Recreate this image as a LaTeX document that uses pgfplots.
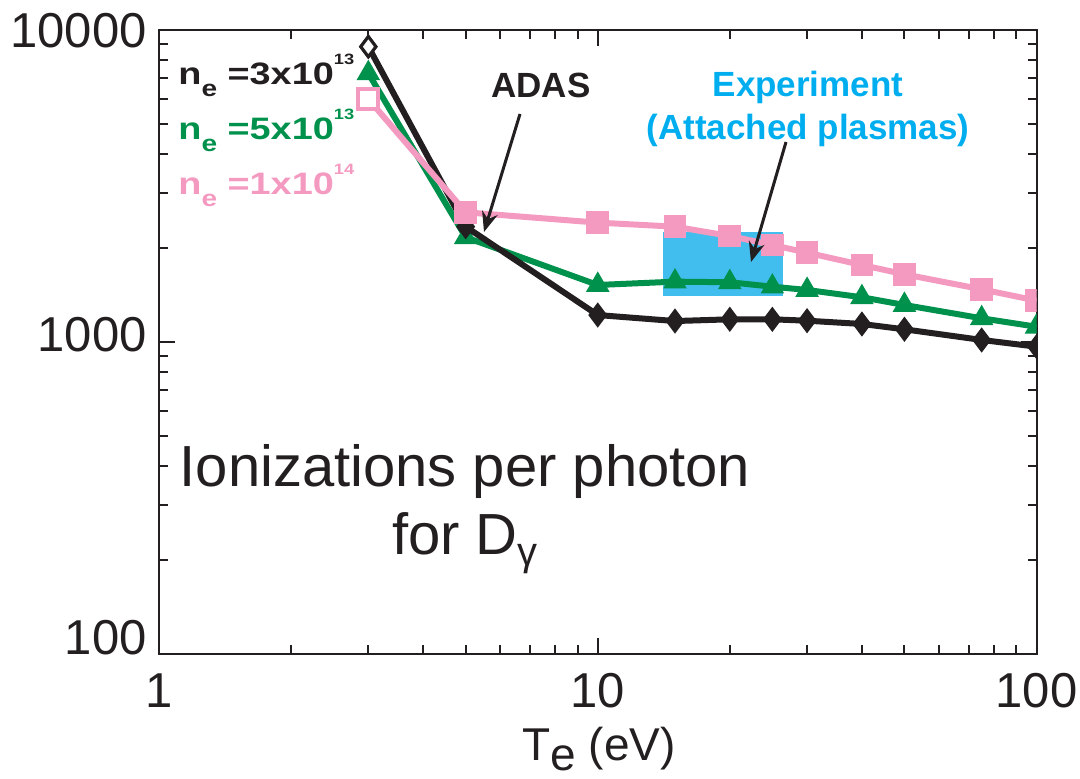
\documentclass[border=0pt]{standalone}
\usepackage{fontspec}
\setmainfont{Liberation Sans}
\usepackage{graphicx}
\usepackage{pgfplots}
\pgfplotsset{compat=1.18}
\usetikzlibrary{arrows.meta}

\definecolor{cblack}{RGB}{35,31,32}
\definecolor{cgreen}{RGB}{0,145,76}
\definecolor{cpink}{RGB}{244,154,193}
\definecolor{cexp}{RGB}{66,190,238}
\definecolor{cexptext}{RGB}{0,174,239}

% legend entry: n_e = <mantissa>x10^<exp>
\newcommand\nelab[2]{\scalebox{1.22}[1]{\bfseries\fontsize{15.5}{18}\selectfont n\raisebox{-6pt}{\fontsize{11.5}{12}\selectfont e} =#1x10\raisebox{10pt}{\fontsize{7.5}{8}\selectfont #2}}}

\begin{document}
\begin{tikzpicture}
% page = 1080x779 px at 0.5pt/px, axis box corner (159,654) at origin
\begin{scope}[x=0.5pt, y=-0.5pt, shift={(-79.5pt,327pt)}]
  \useasboundingbox (0,0) rectangle (1080,779);
\end{scope}

\begin{axis}[
    xmode=log, ymode=log,
    scale only axis,
    width=438.75pt, height=312pt,
    xmin=1, xmax=100, ymin=100, ymax=10000,
    clip marker paths=true,
    axis line style={line width=1pt, cblack},
    tick style={line width=1pt, cblack},
    major tick length=8pt, minor tick length=4.5pt,
    tick align=inside,
    xtick={1,10,100}, xticklabels={1,10,100},
    ytick={100,1000,10000},
    yticklabels={\raisebox{-0.5pt}{100},\raisebox{-5pt}{1000},\raisebox{-9pt}{10000}},
    minor xtick={2,3,4,5,6,7,8,9,20,30,40,50,60,70,80,90},
    minor ytick={200,300,400,500,600,700,800,900,2000,3000,4000,5000,6000,7000,8000,9000},
    tick label style={font=\fontsize{24.5}{29}\selectfont, text=cblack},
    xticklabel style={anchor=north, inner sep=0pt, yshift=-9.5pt},
    yticklabel style={anchor=base east, inner sep=0pt, xshift=-6pt},
]

% experimental range (attached plasmas)
\addplot[fill=cexp, draw=none] coordinates {(14.11,1407) (26.48,1407) (26.48,2247) (14.11,2247)} -- cycle;

% n_e = 5e13
\addplot[cgreen, line width=3pt, mark=triangle*, mark size=5.8pt, mark options={line width=1pt, fill=cgreen}]
coordinates {(3,7265) (5,2166) (10,1523) (15,1561) (20,1554) (25,1504) (30,1468) (40,1391) (50,1314) (75,1191) (100,1119)};

% n_e = 3e13
\addplot[cblack, line width=3pt, mark=diamond*, mark size=5.5pt, mark options={line width=1pt, fill=cblack}]
coordinates {(3,8840) (5,2342) (10,1220) (15,1167) (20,1182) (25,1182) (30,1170) (40,1142) (50,1098) (75,1015) (100,966)};
\addplot[only marks, cblack, mark=diamond*, mark size=5pt, mark options={line width=1.5pt, fill=white}]
coordinates {(3,8840)};

% n_e = 1e14
\addplot[cpink, line width=3pt, mark=square*, mark size=5.2pt, mark options={line width=1pt, fill=cpink}]
coordinates {(3,6009) (5,2604) (10,2413) (15,2342) (20,2186) (25,2046) (30,1933) (40,1765) (50,1648) (75,1475) (100,1357)};
\addplot[only marks, cpink, mark=square*, mark size=5pt, mark options={line width=2pt, fill=white}]
coordinates {(3,6009)};

\end{axis}

\begin{scope}[x=0.5pt, y=-0.5pt, shift={(-79.5pt,327pt)}]
  % legend
  \node[anchor=base west, inner sep=0pt, text=cblack] at (178,85) {\nelab{3}{13}};
  \node[anchor=base west, inner sep=0pt, text=cgreen] at (178,140) {\nelab{5}{13}};
  \node[anchor=base west, inner sep=0pt, text=cpink] at (178,195) {\nelab{1}{14}};

  % annotations
  \node[anchor=base, inner sep=0pt, text=cblack, font=\bfseries\fontsize{17.5}{21}\selectfont] at (541,98) {ADAS};
  \draw[cblack, line width=1.5pt, -{Stealth[length=10pt, width=8pt]}] (520,114) -- (484,232);
  \node[anchor=base, inner sep=0pt, text=cexptext, font=\bfseries\fontsize{17.5}{21}\selectfont] at (808,97) {Experiment};
  \node[anchor=base, inner sep=0pt, text=cexptext, font=\bfseries\fontsize{17.5}{21}\selectfont] at (808,140) {(Attached plasmas)};
  \draw[cblack, line width=1.5pt, -{Stealth[length=10pt, width=8pt]}] (786,142) -- (751,262);

  % description
  \node[anchor=base, inner sep=0pt, text=cblack, font=\fontsize{29}{34}\selectfont] at (465,487) {Ionizations per photon};
  \node[anchor=base, inner sep=0pt, text=cblack, font=\fontsize{29}{34}\selectfont] at (465,555) {for D\raisebox{-5.5pt}{\fontsize{20}{24}\selectfont γ}};

  % x axis label
  \node[anchor=base, inner sep=0pt, text=cblack, font=\fontsize{23}{28}\selectfont] at (599,761) {T\raisebox{-5pt}{e} (eV)};
\end{scope}
\end{tikzpicture}
\end{document}
